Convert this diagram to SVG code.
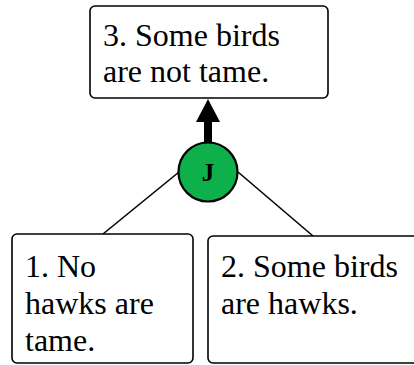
<svg xmlns="http://www.w3.org/2000/svg" width="414" height="365" viewBox="0 0 414 365">
<style>
.box{fill:#fff;stroke:#000;stroke-width:1.6}
.edge{stroke:#000;stroke-width:1.6;fill:none}
text{font-family:"Liberation Serif","Times New Roman",serif;fill:#000}
.t{font-size:32px}
.j{font-size:25px;font-weight:bold}
</style>
<rect width="414" height="365" fill="#fff"/>
<g id="connectors">
<line class="edge" x1="179" y1="172" x2="103" y2="234"/>
<line class="edge" x1="238" y1="172" x2="313" y2="236"/>
<rect x="204" y="120" width="8" height="24" fill="#000"/>
<polygon points="208,99 220,122 196,122" fill="#000"/>
</g>
<g id="n3">
<rect class="box" x="90" y="6" width="238" height="92" rx="5"/>
<text class="t" x="103" y="46">3. Some birds</text>
<text class="t" x="103" y="82">are not tame.</text>
</g>
<g id="nJ">
<circle cx="208" cy="172" r="29.5" fill="#0db04b" stroke="#000" stroke-width="2.2"/>
<text class="j" x="208" y="181" text-anchor="middle">J</text>
</g>
<g id="n1">
<rect class="box" x="12" y="234" width="181" height="129" rx="5"/>
<text class="t" x="25" y="277">1. No</text>
<text class="t" x="25" y="314">hawks are</text>
<text class="t" x="25" y="351">tame.</text>
</g>
<g id="n2">
<rect class="box" x="208" y="236" width="220" height="127" rx="5"/>
<text class="t" x="221" y="277">2. Some birds</text>
<text class="t" x="221" y="314">are hawks.</text>
</g>
</svg>
